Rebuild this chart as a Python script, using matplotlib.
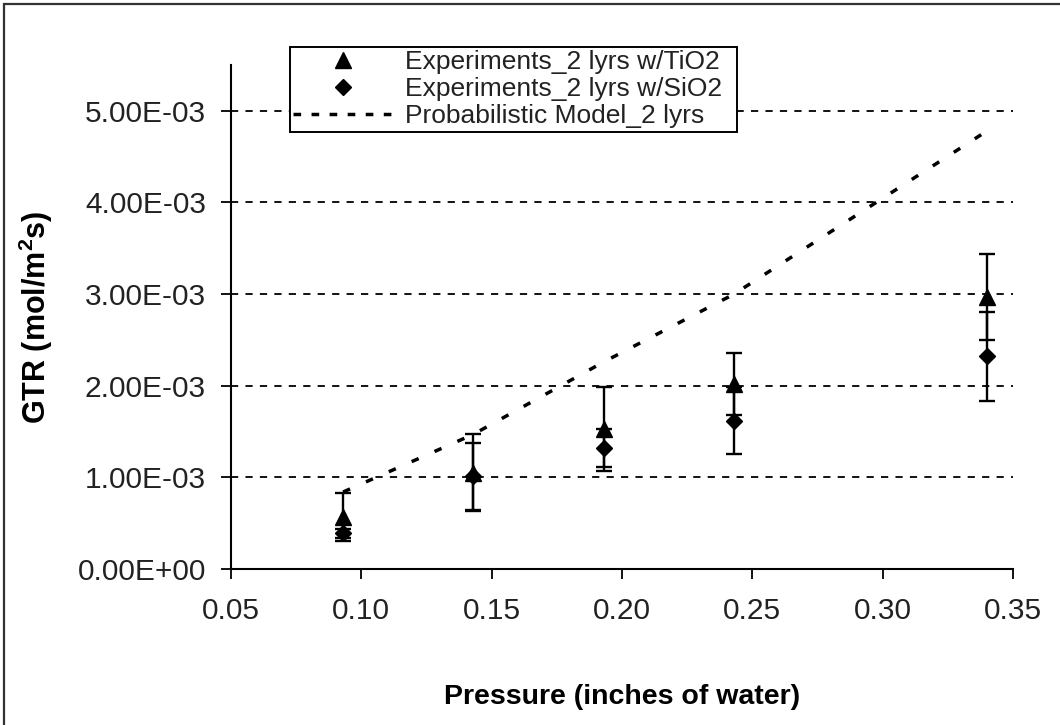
import matplotlib
matplotlib.use('Agg')
import matplotlib.pyplot as plt
from matplotlib.lines import Line2D
from matplotlib.patches import Rectangle
from matplotlib.ticker import FuncFormatter

pressure = [0.093, 0.143, 0.193, 0.243, 0.340]

gtr_tio2 = [0.57e-3, 1.05e-3, 1.53e-3, 2.02e-3, 2.97e-3]
err_tio2 = [0.26e-3, 0.42e-3, 0.46e-3, 0.34e-3, 0.47e-3]

gtr_sio2 = [0.39e-3, 1.01e-3, 1.32e-3, 1.62e-3, 2.32e-3]
err_sio2 = [0.05e-3, 0.37e-3, 0.21e-3, 0.37e-3, 0.49e-3]

gtr_model = [0.84e-3, 1.47e-3, 2.26e-3, 3.00e-3, 4.78e-3]

x_ticks = [0.05, 0.10, 0.15, 0.20, 0.25, 0.30, 0.35]
y_ticks = [0.0, 1e-3, 2e-3, 3e-3, 4e-3, 5e-3]

labels = ['Experiments_2 lyrs w/TiO2',
          'Experiments_2 lyrs w/SiO2',
          'Probabilistic Model_2 lyrs']


def main():
    plt.rcParams['font.family'] = ['Liberation Sans', 'DejaVu Sans']
    plt.rcParams['mathtext.fontset'] = 'custom'
    plt.rcParams['mathtext.bf'] = 'Liberation Sans:bold'

    W, H = 1060, 725
    fig = plt.figure(figsize=(W / 100, H / 100), dpi=100)
    ax = fig.add_axes([231 / W, 156 / H, 782 / W, 504 / H])

    # horizontal dashed grid
    for y in y_ticks[1:]:
        ax.axhline(y, color='black', lw=1.3, ls=(0, (4, 4)), zorder=1)

    ax.plot(pressure, gtr_model, color='black', lw=2.5,
            ls=(0, (2.2, 5.0)), zorder=2)

    eb = dict(fmt='none', ecolor='black', elinewidth=1.7, capsize=6,
              capthick=1.7, zorder=3)
    ax.errorbar(pressure, gtr_tio2, yerr=err_tio2, **eb)
    ax.errorbar(pressure, gtr_sio2, yerr=err_sio2, **eb)
    ax.plot(pressure, gtr_tio2, ls='none', marker='^', ms=11,
            color='black', zorder=4)
    ax.plot(pressure, gtr_sio2, ls='none', marker='D', ms=8,
            color='black', zorder=4)

    ax.set_xlim(0.05, 0.35)
    ax.set_ylim(0, 5.5e-3)
    ax.set_xticks(x_ticks)
    ax.set_yticks(y_ticks)
    ax.xaxis.set_major_formatter(FuncFormatter(lambda v, p: f'{v:.2f}'))
    ax.yaxis.set_major_formatter(FuncFormatter(lambda v, p: f'{v:.2E}'))

    for s in ['top', 'right']:
        ax.spines[s].set_visible(False)
    for s in ['left', 'bottom']:
        ax.spines[s].set_linewidth(1.5)
    ax.tick_params(axis='both', direction='out', length=7, width=1.3,
                   labelsize=21.5, colors='black')
    ax.tick_params(axis='x', pad=13)
    ax.tick_params(axis='y', pad=11)
    for t in ax.get_xticklabels() + ax.get_yticklabels():
        t.set_color('#222222')

    ax.set_xlabel('Pressure (inches of water)', fontsize=20.5,
                  fontweight='bold', labelpad=43)
    ax.set_ylabel(r'GTR (mol/m$\mathbf{^{2}}$s)', fontsize=22,
                  fontweight='bold', labelpad=16)

    handles = [
        Line2D([], [], ls='none', marker='^', ms=11, color='black'),
        Line2D([], [], ls='none', marker='D', ms=8, color='black'),
        Line2D([], [], color='black', lw=2.5, ls=(0, (2.2, 3.0))),
    ]
    leg = fig.legend(handles, labels, loc='upper left',
                     bbox_to_anchor=(290 / W, 1 - 130 / H, 447 / W, 83 / H),
                     mode='expand',
                     fontsize=19, frameon=True, fancybox=False,
                     edgecolor='black', framealpha=1, borderaxespad=0,
                     borderpad=0.12, labelspacing=0.12, handlelength=3.8,
                     handletextpad=0.45)
    leg.get_frame().set_linewidth(1.4)
    for t in leg.get_texts():
        t.set_color('#222222')

    # outer chart border
    fig.patches.append(Rectangle((3.5 / W, -0.05), 1.1, 1 - 3.5 / H + 0.05,
                                 transform=fig.transFigure, fill=False,
                                 edgecolor='#333333', lw=1.6))

    fig.savefig('out.png', dpi=100)


if __name__ == '__main__':
    main()
